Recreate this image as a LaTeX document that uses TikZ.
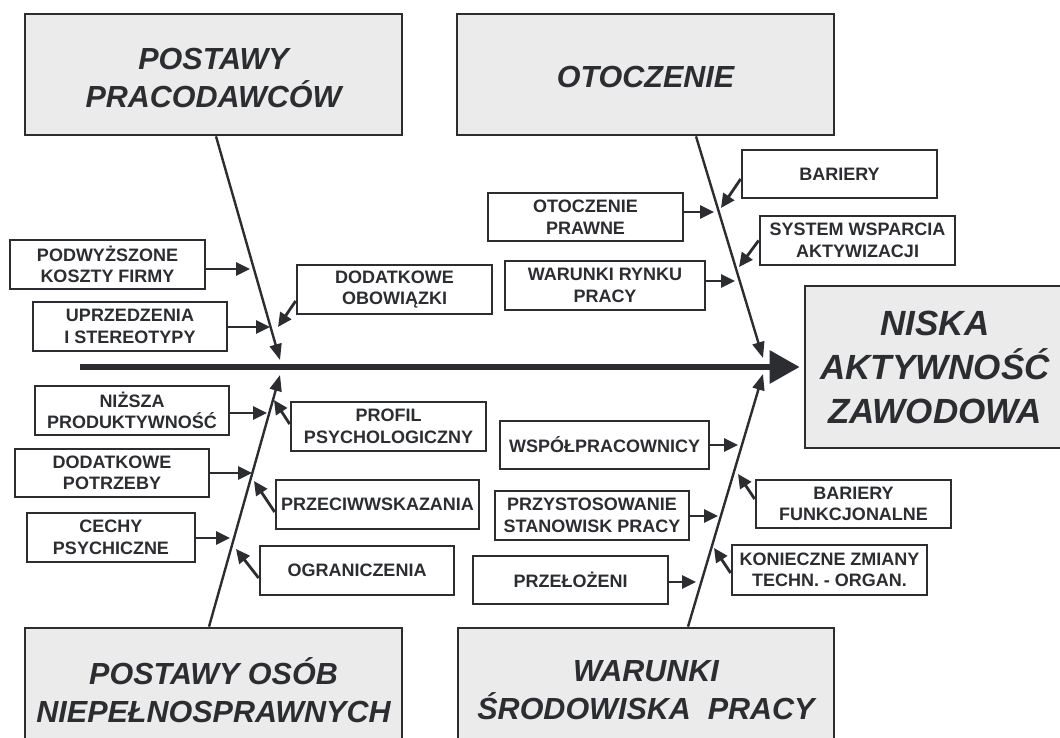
\documentclass[tikz,border=0pt]{standalone}
\usepackage{fontspec}
\setmainfont{Liberation Sans}
\usetikzlibrary{arrows.meta}
\definecolor{ink}{HTML}{2B2D31}
\definecolor{boxgray}{HTML}{EBEBEB}
\tikzset{
 sbox/.style={draw=ink, line width=2.7pt, fill=white, inner sep=0pt, align=center, text=ink, font=\fontsize{18}{21.5}\selectfont\bfseries},
 mbox/.style={draw=ink, line width=2.7pt, fill=boxgray, inner sep=0pt, align=center, text=ink, font=\fontsize{30.5}{38}\selectfont\bfseries\itshape},
 mtext/.style={inner sep=0pt, align=center, text=ink, font=\fontsize{30.5}{38}\selectfont\bfseries\itshape},
 bone/.style={draw=ink, line width=2.4pt, -{Triangle[length=16pt,width=12pt]}},
 sarr/.style={draw=ink, line width=2.8pt, -{Triangle[length=14pt,width=13pt]}},
 spine/.style={draw=ink, line width=6pt, -{Triangle[length=30pt,width=32pt]}},
}
\begin{document}
\begin{tikzpicture}[x=1pt,y=-1pt]
\useasboundingbox (0,0) rectangle (1060,738);
\clip (0,0) rectangle (1060,738);
\fill[white] (0,0) rectangle (1060,738);

% main boxes
\node[mbox, minimum width=377pt, minimum height=121pt] (pp) at (213.5,74.5) {};
\node[mtext] (ppt) at ([yshift=-4pt]pp.center) {POSTAWY\\PRACODAWCÓW};
\node[mbox, minimum width=377pt, minimum height=121pt] (ot) at (645.5,74.5) {};
\node[mtext] (ott) at ([yshift=-2.5pt]ot.center) {OTOCZENIE};
\node[mbox, minimum width=377pt, minimum height=125pt] (po) at (213.5,690.5) {POSTAWY OSÓB\\NIEPEŁNOSPRAWNYCH};
\node[mbox, minimum width=376pt, minimum height=125pt] (wa) at (646,690.5) {WARUNKI\\ŚRODOWISKA~ PRACY};
\node[mbox, minimum width=260pt, minimum height=162pt, font=\fontsize{35}{44}\selectfont\bfseries\itshape] (nis) at (935,367) {NISKA\\AKTYWNOŚĆ\\ZAWODOWA};

% small boxes
\node[sbox, minimum width=195pt, minimum height=49pt] (podw) at (107.5,264.5) {PODWYŻSZONE\\KOSZTY FIRMY};
\node[sbox, minimum width=194pt, minimum height=49pt] (uprz) at (130,326.5) {UPRZEDZENIA\\I STEREOTYPY};
\node[sbox, minimum width=195pt, minimum height=49pt] (dodob) at (394.5,289.5) {DODATKOWE\\OBOWIĄZKI};
\node[sbox, minimum width=195pt, minimum height=48pt] (otpr) at (585.5,217) {OTOCZENIE\\PRAWNE};
\node[sbox, minimum width=200pt, minimum height=49pt] (rynku) at (605,285.5) {WARUNKI RYNKU\\PRACY};
\node[sbox, minimum width=195pt, minimum height=48pt] (bar) at (839.5,174) {BARIERY};
\node[sbox, minimum width=195pt, minimum height=49pt] (sysw) at (857.5,240.5) {SYSTEM WSPARCIA\\AKTYWIZACJI};
\node[sbox, minimum width=194pt, minimum height=49pt] (nizsza) at (132,410.5) {NIŻSZA\\PRODUKTYWNOŚĆ};
\node[sbox, minimum width=195pt, minimum height=49pt] (profil) at (388.5,426.5) {PROFIL\\PSYCHOLOGICZNY};
\node[sbox, minimum width=194pt, minimum height=48pt] (dodpot) at (112,473) {DODATKOWE\\POTRZEBY};
\node[sbox, minimum width=203pt, minimum height=49pt] (przec) at (377.5,504.5) {PRZECIWWSKAZANIA};
\node[sbox, minimum width=168pt, minimum height=49pt] (cechy) at (111,537.5) {CECHY\\PSYCHICZNE};
\node[sbox, minimum width=194pt, minimum height=49pt] (ogr) at (357,570.5) {OGRANICZENIA};
\node[sbox, minimum width=209pt, minimum height=48pt] (wspol) at (604.5,445) {WSPÓŁPRACOWNICY};
\node[sbox, minimum width=195pt, minimum height=48pt] (barfun) at (853.5,504) {BARIERY\\FUNKCJONALNE};
\node[sbox, minimum width=194pt, minimum height=49pt] (przyst) at (592,515.5) {PRZYSTOSOWANIE\\STANOWISK PRACY};
\node[sbox, minimum width=195pt, minimum height=50pt] (konie) at (829.5,570) {KONIECZNE ZMIANY\\TECHN. - ORGAN.};
\node[sbox, minimum width=195pt, minimum height=48pt] (przel) at (570.5,580) {PRZEŁOŻENI};

% spine
\coordinate (sp0) at (80,367);
\draw[spine] (sp0) -- ([xshift=-4pt]nis.west);

% bones
\coordinate (t1) at (280,360);
\coordinate (t2) at (763,358);
\coordinate (t3) at (280,375);
\coordinate (t4) at (763,374);
\draw[bone] ([xshift=2.5pt]pp.south) -- (t1);
\draw[bone] ([xshift=50.5pt]ot.south) -- (t2);
\draw[bone] ([xshift=-4.5pt]po.north) -- (t3);
\draw[bone] ([xshift=42pt]wa.north) -- (t4);

% arrow tips
\coordinate (a1) at (250,269);
\coordinate (a2) at (270,327);
\coordinate (a3) at (278,327);
\coordinate (a4) at (714,212);
\coordinate (a5) at (735,281);
\coordinate (a6) at (721,208);
\coordinate (a7) at (739,267);
\coordinate (a8) at (267,413);
\coordinate (a9) at (274,400);
\coordinate (a10) at (252,473);
\coordinate (a11) at (254,481);
\coordinate (a12) at (230,538);
\coordinate (a13) at (236,549);
\coordinate (a14) at (738,445);
\coordinate (a15) at (738,474);
\coordinate (a16) at (718,516);
\coordinate (a17) at (714,548);
\coordinate (a18) at (696,582);

% horizontal arrows
\draw[sarr] (podw.east |- a1) -- (a1);
\draw[sarr] (uprz.east |- a2) -- (a2);
\draw[sarr] (otpr.east |- a4) -- (a4);
\draw[sarr] (rynku.east |- a5) -- (a5);
\draw[sarr] (nizsza.east |- a8) -- (a8);
\draw[sarr] (dodpot.east |- a10) -- (a10);
\draw[sarr] (cechy.east |- a12) -- (a12);
\draw[sarr] (wspol.east |- a14) -- (a14);
\draw[sarr] (przyst.east |- a16) -- (a16);
\draw[sarr] (przel.east |- a18) -- (a18);

% diagonal arrows
\draw[sarr] ([yshift=-11.5pt]dodob.west) -- (a3);
\draw[sarr] ([yshift=-5pt]bar.west) -- (a6);
\draw[sarr] (sysw.west) -- (a7);
\draw[sarr] ([yshift=2.5pt]profil.west) -- (a9);
\draw[sarr] ([yshift=-7.5pt]przec.west) -- (a11);
\draw[sarr] ([yshift=-7.5pt]ogr.west) -- (a13);
\draw[sarr] ([yshift=5pt]barfun.west) -- (a15);
\draw[sarr] ([yshift=-3pt]konie.west) -- (a17);
\end{tikzpicture}
\end{document}
